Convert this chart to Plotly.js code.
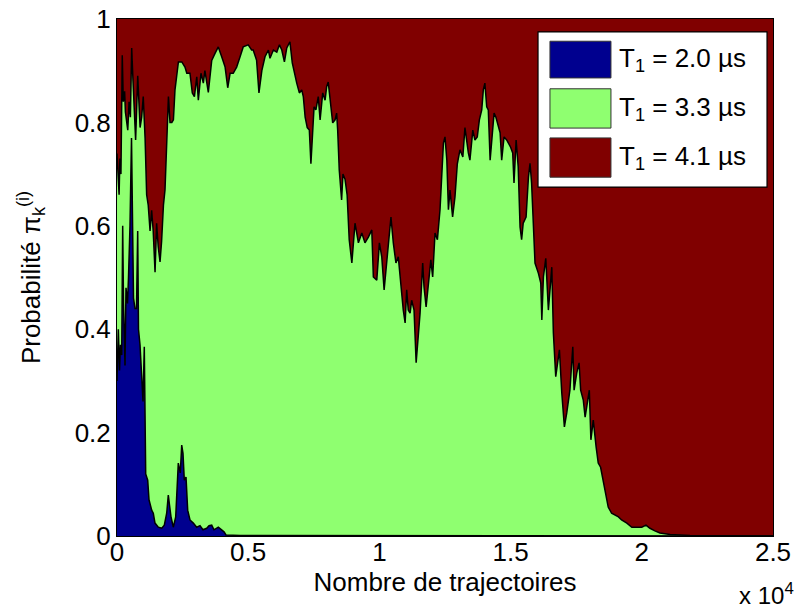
<!DOCTYPE html>
<html>
<head>
<meta charset="utf-8">
<script src="https://cdn.plot.ly/plotly-3.0.1.min.js"></script>
<style>html,body{margin:0;padding:0;background:#fff;}#chart{width:798px;height:613px;}</style>
</head>
<body>
<div id="chart"></div>
<script>
// Legend labels
const seriesNames = ['T<sub>1</sub> = 2.0 µs', 'T<sub>1</sub> = 3.3 µs', 'T<sub>1</sub> = 4.1 µs'];
const seriesColors = ['#00008F', '#8FFF70', '#800000'];

// Axis ticks
const xTickVals = [0, 5000, 10000, 15000, 20000, 25000];
const xTickText = ['0', '0.5', '1', '1.5', '2', '2.5'];
const yTickVals = [0, 0.2, 0.4, 0.6, 0.8, 1];
const yTickText = ['0', '0.2', '0.4', '0.6', '0.8', '1'];

// Top of the blue area (T1 = 2.0 us)
const blueX = [0,50,95,133,179,217,248,305,343,400,
  438,495,553,591,629,686,743,789,819,877,
  934,991,1040,1094,1170,1220,1322,1383,1448,1574,
  1704,1803,1894,1955,2001,2058,2146,2237,2336,2412,
  2466,2515,2565,2630,2694,2782,2908,3037,3163,3277,
  3418,3506,3609,3697,3861,3963,4078,4154,4688,25000];
const blueTop = [0.30,0.40,0.32,0.37,0.35,0.60,0.45,0.33,0.48,0.45,
  0.50,0.60,0.77,0.58,0.46,0.44,0.44,0.59,0.40,0.37,
  0.30,0.26,0.366,0.12,0.108,0.07,0.05,0.044,0.025,0.017,
  0.015,0.021,0.044,0.079,0.06,0.037,0.017,0.037,0.141,0.122,
  0.176,0.16,0.108,0.114,0.05,0.031,0.025,0.017,0.02,0.012,
  0.015,0.02,0.021,0.012,0.017,0.013,0.008,0.002,0.001,0];

// Top of the green area (cumulative)
const greenX = [0,40,80,110,150,200,240,290,320,410,
  460,510,560,610,670,710,790,840,880,940,
  1000,1070,1130,1190,1260,1320,1380,1450,1510,1570,
  1640,1700,1770,1830,1890,1960,2020,2090,2150,2210,
  2340,2470,2590,2660,2780,2870,2950,3040,3100,3200,
  3290,3350,3480,3610,3740,3860,3990,4120,4220,4310,
  4430,4560,4690,4810,5000,5130,5190,5320,5410,5520,
  5640,5770,5830,5960,6090,6190,6280,6380,6470,6590,
  6680,6780,6850,6950,7040,7100,7170,7250,7330,7390,
  7440,7510,7580,7670,7740,7840,7930,7990,8050,8120,
  8220,8310,8370,8410,8470,8560,8610,8690,8770,8850,
  8950,9070,9200,9330,9450,9580,9710,9770,9900,10000,
  10090,10180,10280,10380,10440,10530,10630,10720,10810,10910,
  10980,11040,11100,11170,11230,11320,11400,11460,11550,11650,
  11700,11780,11860,11960,12030,12120,12210,12310,12440,12500,
  12570,12630,12690,12790,12880,12970,13070,13180,13260,13330,
  13390,13450,13560,13640,13730,13810,13900,13960,14020,14090,
  14150,14220,14280,14370,14440,14530,14600,14660,14750,14850,
  15000,15080,15130,15210,15290,15360,15420,15480,15590,15680,
  15740,15800,15870,15930,16060,16150,16190,16250,16340,16440,
  16570,16630,16720,16860,16950,17050,17140,17260,17370,17420,
  17520,17610,17670,17770,17840,17920,18000,18060,18150,18260,
  18340,18430,18530,18640,18720,18850,18980,19110,19230,19430,
  19620,19810,20000,20160,20310,20500,20690,21080,21840,25000];
const greenTop = [0.74,0.71,0.66,0.73,0.70,0.93,0.84,0.86,0.82,0.785,
  0.84,0.81,0.944,0.88,0.81,0.766,0.89,0.83,0.79,0.81,
  0.85,0.77,0.66,0.64,0.59,0.63,0.59,0.51,0.605,0.56,
  0.53,0.57,0.64,0.67,0.75,0.85,0.80,0.80,0.805,0.863,
  0.917,0.917,0.907,0.895,0.895,0.857,0.85,0.888,0.843,0.895,
  0.876,0.90,0.858,0.92,0.934,0.946,0.927,0.907,0.867,0.895,
  0.895,0.907,0.927,0.946,0.95,0.94,0.94,0.92,0.857,0.90,
  0.927,0.94,0.924,0.94,0.936,0.95,0.94,0.917,0.944,0.956,
  0.915,0.888,0.876,0.857,0.863,0.85,0.81,0.79,0.785,0.72,
  0.77,0.83,0.824,0.85,0.805,0.857,0.843,0.869,0.878,0.843,
  0.799,0.805,0.818,0.785,0.708,0.65,0.70,0.69,0.66,0.573,
  0.528,0.605,0.567,0.586,0.567,0.578,0.592,0.501,0.495,0.567,
  0.54,0.476,0.528,0.573,0.617,0.567,0.528,0.54,0.489,0.437,
  0.412,0.476,0.437,0.431,0.456,0.437,0.335,0.379,0.431,0.528,
  0.482,0.443,0.489,0.534,0.501,0.586,0.573,0.631,0.76,0.772,
  0.727,0.631,0.669,0.617,0.656,0.72,0.747,0.733,0.79,0.76,
  0.741,0.727,0.785,0.766,0.772,0.805,0.824,0.863,0.876,0.83,
  0.824,0.727,0.772,0.818,0.81,0.79,0.78,0.727,0.772,0.766,
  0.752,0.741,0.683,0.766,0.714,0.598,0.573,0.605,0.617,0.694,
  0.721,0.683,0.598,0.528,0.508,0.489,0.418,0.501,0.537,0.437,
  0.52,0.393,0.308,0.36,0.277,0.211,0.238,0.282,0.366,0.282,
  0.315,0.335,0.282,0.263,0.23,0.257,0.282,0.186,0.224,0.172,
  0.141,0.133,0.108,0.083,0.056,0.044,0.041,0.037,0.031,0.025,
  0.017,0.017,0.017,0.021,0.015,0.010,0.006,0.003,0.001,0];

// Top of the red area (all three summed = 1)
const redX = [0, 25000];
const redTop = [1, 1];

const FONT = 'Arial, "Liberation Sans", Helvetica, sans-serif';
const FS = 26;

const traces = [
  {x: redX, y: redTop, type: 'scatter', mode: 'lines', fill: 'tozeroy',
   fillcolor: seriesColors[2], line: {color: 'rgba(0,0,0,0)', width: 0}, name: seriesNames[2], showlegend: false},
  {x: greenX, y: greenTop, type: 'scatter', mode: 'lines', fill: 'tozeroy',
   fillcolor: seriesColors[1], line: {color: '#000', width: 1.5}, name: seriesNames[1], showlegend: false},
  {x: blueX, y: blueTop, type: 'scatter', mode: 'lines', fill: 'tozeroy',
   fillcolor: seriesColors[0], line: {color: '#000', width: 1.5}, name: seriesNames[0], showlegend: false}
];

// Legend (MATLAB-style box with large swatches)
const legBox = {x0: 0.6418, x1: 0.9909, y0: 0.675, y1: 0.975};
const swX = [0.660, 0.753];
const rows = [[0.886, 0.957], [0.789, 0.865], [0.694, 0.770]];
const shapes = [{type: 'rect', xref: 'paper', yref: 'paper', x0: legBox.x0, x1: legBox.x1, y0: legBox.y0, y1: legBox.y1,
  fillcolor: '#fff', line: {color: '#000', width: 1.2}}];
const annotations = [];
rows.forEach((r, i) => {
  shapes.push({type: 'rect', xref: 'paper', yref: 'paper', x0: swX[0], x1: swX[1], y0: r[0], y1: r[1],
    fillcolor: seriesColors[i], line: {color: '#333', width: 1}});
  annotations.push({xref: 'paper', yref: 'paper', x: 0.762, y: (r[0] + r[1]) / 2, xanchor: 'left', yanchor: 'middle',
    text: seriesNames[i], showarrow: false, font: {family: FONT, size: FS, color: '#000'}});
});
annotations.push({xref: 'paper', yref: 'paper', x: 1.035, y: -0.112, xanchor: 'right', yanchor: 'middle',
  text: 'x 10<sup>4</sup>', showarrow: false, font: {family: FONT, size: 24, color: '#000'}});

const layout = {
  width: 798, height: 613,
  margin: {l: 117, r: 25, t: 19, b: 77},
  paper_bgcolor: '#fff', plot_bgcolor: '#fff',
  font: {family: FONT, size: FS, color: '#000'},
  showlegend: false,
  xaxis: {range: [0, 25000], tickvals: xTickVals, ticktext: xTickText, ticks: '', showgrid: false, zeroline: false,
    showline: true, mirror: true, linecolor: '#000', linewidth: 1, tickfont: {family: FONT, size: FS},
    ticklabelstandoff: -7,
    title: {text: 'Nombre de trajectoires', font: {family: FONT, size: FS}, standoff: 3}},
  yaxis: {range: [0, 1], tickvals: yTickVals, ticktext: yTickText, ticks: '', showgrid: false, zeroline: false,
    showline: true, mirror: true, linecolor: '#000', linewidth: 1, tickfont: {family: FONT, size: FS},
    title: {text: 'Probabilité π<sub>k</sub><sup>(i)</sup>', font: {family: FONT, size: FS}, standoff: 26}},
  shapes: shapes,
  annotations: annotations
};

Plotly.newPlot('chart', traces, layout, {staticPlot: true, displayModeBar: false});
</script>
</body>
</html>
